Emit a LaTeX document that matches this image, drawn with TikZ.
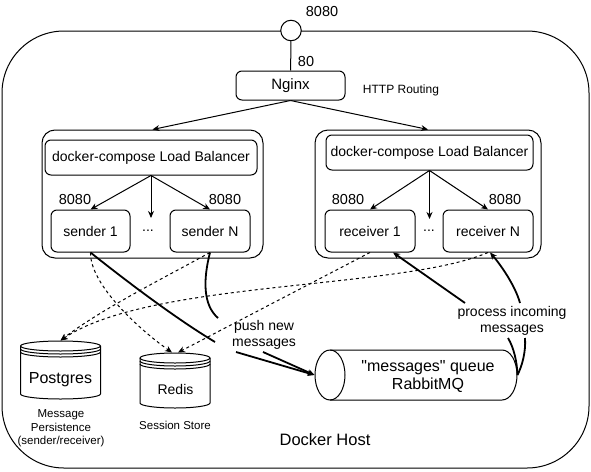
\documentclass[tikz,border=0pt]{standalone}
\usepackage{fontspec}
\setmainfont[Ligatures=TeXOff]{Liberation Sans}
\usetikzlibrary{arrows.meta}
\begin{document}
\begin{tikzpicture}[x=1pt,y=-1pt,line width=1pt,
  box/.style={draw, rounded corners=6pt, align=center, inner sep=0pt},
  grp/.style={draw, rounded corners=13pt, inner sep=0pt},
  tsmall/.style={font=\fontsize{11.5}{13.5}\selectfont, align=center, inner sep=0pt},
  tlab/.style={font=\fontsize{12}{14}\selectfont, align=center, inner sep=0pt},
  tport/.style={font=\fontsize{14.5}{16}\selectfont, inner sep=0pt},
  tmid/.style={font=\fontsize{14}{15.5}\selectfont, align=center, inner sep=0pt},
  tbig/.style={font=\fontsize{16}{18}\selectfont, align=center, inner sep=0pt},
  arr/.style={-{Stealth[length=7pt,width=6pt]}},
  heavy/.style={line width=1.8pt},
  dsh/.style={dash pattern=on 3pt off 3pt}
]
\useasboundingbox (0,0) rectangle (591,471);

% Docker host
\node[draw, rounded corners=62pt, minimum width=587pt, minimum height=437pt, inner sep=0pt] (host) at (295.5,249.5) {};
\node[font=\fontsize{16.5}{18}\selectfont, inner sep=0pt] (hostlbl) at (325,440) {Docker Host};

% port and nginx
\node[draw, circle, fill=white, minimum size=20.5pt, inner sep=0pt] (port) at (291,30.5) {};
\node[tport] (p8080) at (322,12) {8080};
\node[tport] (p80) at (306,62) {80};
\node[box, font=\fontsize{15}{17}\selectfont, minimum width=109pt, minimum height=29pt] (nginx) at (290.5,85.5) {Nginx};
\node[tlab] (http) at (401,90) {HTTP Routing};
\draw (port) -- (nginx);

% left group
\node[grp, minimum width=221pt, minimum height=128pt] (lg) at (152.5,194) {};
\node[box, tmid, minimum width=212pt, minimum height=35pt] (llb) at (151,157.5) {docker-compose Load Balancer};
\node[box, tmid, minimum width=79pt, minimum height=42pt] (s1) at (90.5,231) {sender 1};
\node[box, tmid, minimum width=80pt, minimum height=42pt] (sN) at (210,231) {sender N};
\node[tmid] (ldots) at (148,231) {...};
\node[tport] (l8080a) at (75,200) {8080};
\node[tport] (l8080b) at (225,200) {8080};
\coordinate (lmid) at (151,218);

% right group
\node[grp, minimum width=226pt, minimum height=128pt] (rg) at (428,194) {};
\node[box, tmid, minimum width=207pt, minimum height=35pt] (rlb) at (429.5,152.5) {docker-compose Load Balancer};
\node[box, tmid, minimum width=90pt, minimum height=42pt] (r1) at (370,231) {receiver 1};
\node[box, tmid, minimum width=90pt, minimum height=42pt] (rN) at (488,231) {receiver N};
\node[tmid] (rdots) at (429,231) {...};
\node[tport] (r8080a) at (348,200) {8080};
\node[tport] (r8080b) at (505,200) {8080};
\coordinate (rmid) at (429.5,219);

% arrows from nginx and load balancers
\draw[arr] (nginx.south) -- (lg.north);
\draw[arr] (nginx.south) -- (rg.north);
\draw[arr] (llb.south) -- (s1.north);
\draw[arr] (llb.south) -- (lmid);
\draw[arr] (llb.south) -- (sN.north);
\draw[arr] (rlb.south) -- (r1.north);
\draw[arr] (rlb.south) -- (rmid);
\draw[arr] (rlb.south) -- (rN.north);

% Postgres
\node[minimum width=80pt, minimum height=58pt, inner sep=0pt] (pg) at (60.5,370) {};
\draw[fill=white] (20.5,346) arc[start angle=180,end angle=0,x radius=40pt,y radius=5pt] -- (100.5,394) arc[start angle=0,end angle=-180,x radius=40pt,y radius=5pt] -- cycle;
\foreach \k in {0,3,6} \draw (20.5,{346+\k}) arc[start angle=180,end angle=360,x radius=40pt,y radius=5pt];
\node[font=\fontsize{16}{18}\selectfont, inner sep=0pt] (pgt) at (60.5,380) {Postgres};
\node[tsmall] (pgl) at (61,428.5) {Message\\Persistence\\(sender/receiver)};

% Redis
\node[minimum width=70pt, minimum height=55pt, inner sep=0pt] (redis) at (175,380.5) {};
\draw[fill=white] (140,358) arc[start angle=180,end angle=0,x radius=35pt,y radius=5pt] -- (210,403) arc[start angle=0,end angle=-180,x radius=35pt,y radius=5pt] -- cycle;
\foreach \k in {0,3,6} \draw (140,{358+\k}) arc[start angle=180,end angle=360,x radius=35pt,y radius=5pt];
\node[tmid] (redist) at (175.5,389) {Redis};
\node[tsmall] (redisl) at (175,425) {Session Store};

% RabbitMQ queue
\node[minimum width=202pt, minimum height=50pt, inner sep=0pt] (q) at (416,375) {};
\draw[fill=white] (330,350) -- (502,350) arc[start angle=90,end angle=-90,x radius=15pt,y radius=25pt] -- (330,400) arc[start angle=270,end angle=90,x radius=15pt,y radius=25pt] -- cycle;
\draw (330,350) arc[start angle=90,end angle=-90,x radius=15pt,y radius=25pt];
\node[tbig] (qt) at (428,377) {"messages" queue\\RabbitMQ};

% dashed connectors
\draw[dsh, arr] (s1.south) .. controls (90,285) and (140,330) .. ([xshift=-3pt]redis.north);
\draw[dsh, arr] (sN.south) .. controls (160,280) and (100,310) .. (pg.north);
\draw[dsh, arr] (r1.south) -- ([xshift=3pt]redis.north);
\draw[dsh, arr] (rN.south) .. controls (400,290) and (150,280) .. (pg.north);

% push new messages
\node[tmid] (push) at (264,335) {push new\\messages};
\coordinate (pin1) at (215,342);
\coordinate (pin2) at (218,318);
\coordinate (pout1) at (236,352);
\coordinate (pout2) at (263,352);
\draw[heavy] (s1.south) .. controls (125,280) and (175,318) .. (pin1);
\draw[heavy] (sN.south) .. controls (203,280) and (203,305) .. (pin2);
\draw[heavy, arr] (pout1) -- (q.west);
\draw[heavy, arr] (pout2) -- (q.west);

% process incoming messages
\node[tmid] (proc) at (512,321) {process incoming\\messages};
\coordinate (rin1) at (508,338);
\coordinate (rin2) at (525,338);
\coordinate (rout1) at (465,303);
\coordinate (rout2) at (520,303);
\draw[heavy] (q.east) .. controls (517,362) and (514,348) .. (rin1);
\draw[heavy] (q.east) .. controls (522,366) and (526,352) .. (rin2);
\draw[heavy, arr] (rout1) -- ([xshift=23pt]r1.south);
\draw[heavy, arr] (rout2) .. controls (515,285) and (500,264) .. ([xshift=2pt]rN.south);

\end{tikzpicture}
\end{document}
